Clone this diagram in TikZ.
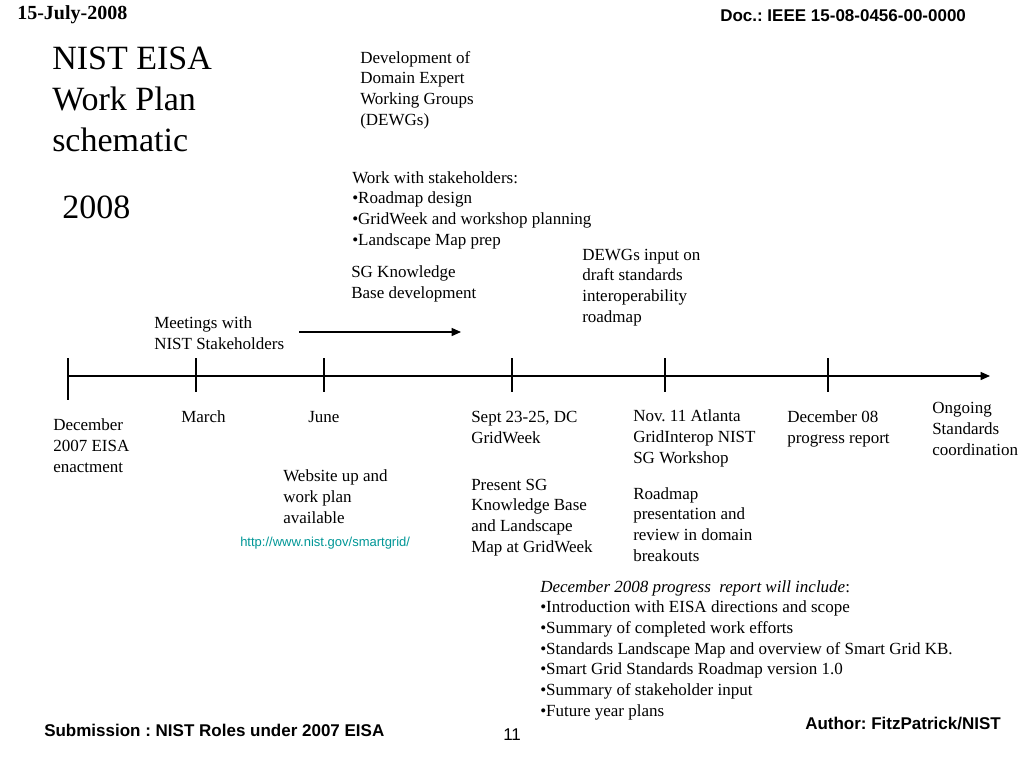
\documentclass[tikz,border=0pt]{standalone}
\usepackage{fontspec}
\setmainfont{Liberation Serif}
\setsansfont{Liberation Sans}
\frenchspacing
\usetikzlibrary{positioning,arrows.meta}
\definecolor{urlteal}{RGB}{0,150,150}

\begin{document}
\begin{tikzpicture}[
		x=0.75pt, y=-0.75pt,
		every node/.style={
			inner sep=0pt,
			anchor=base west,
			align=left
		},
		note/.style={font=\fontsize{12.75}{15.5}\selectfont},
		bigtitle/.style={font=\fontsize{25.5}{30.75}\selectfont},
		sanshead/.style={font=\sffamily\bfseries\fontsize{12.75}{15}\selectfont},
		timeline/.style={line width=1pt, -{Triangle[length=7pt,width=6pt]}},
		tickmark/.style={line width=1pt}
		]
		\useasboundingbox (0,0) rectangle (1024,768);
		
		% header and footer
		\node[font=\bfseries\fontsize{15}{17}\selectfont] (date) at (17,19) {15-July-2008};
		\node[sanshead] (doc) at (720,21) {Doc.: IEEE 15-08-0456-00-0000};
		\node[sanshead] (subm) at (44,736) {Submission : NIST Roles under 2007 EISA};
		\node[font=\sffamily\fontsize{12.75}{15}\selectfont] (page) at (503,740) {11};
		\node[sanshead] (author) at (805,729) {Author: FitzPatrick/NIST};
		
		% title (base = last line)
		\node[bigtitle] (title) at (52,151) {NIST EISA\\Work Plan\\schematic};
		\node[bigtitle] (year) at (62,218) {2008};
		
		% notes above the line
		\node[note] (dewg) at (360,125) {Development of\\Domain Expert\\Working Groups\\(DEWGs)};
		\node[note] (stake) at (352,245) {Work with stakeholders:\\\textbullet Roadmap design\\\textbullet GridWeek and workshop planning\\\textbullet Landscape Map prep};
		\node[note] (sgkb) at (351,298) {SG Knowledge\\Base development};
		\node[note] (dewgin) at (582,322) {DEWGs input on\\draft standards\\interoperability\\roadmap};
		\node[note] (meet) at (154,349) {Meetings with\\NIST Stakeholders};
		
		\coordinate (meetfrom) at (299,332);
		\coordinate (meetto) at (461,332);
		\draw[timeline] (meetfrom) -- (meetto);
		
		% time line
		\coordinate (t0) at (68,376);
		\coordinate (tend) at (990,376);
		\draw[timeline] (t0) -- (tend);
		\draw[tickmark] (68,358) -- (68,400);
		\foreach \x in {196,324,512,665,828}
		\draw[tickmark] (\x,358) -- (\x,392);
		
		% dates
		\node[note] (dec07) at (53,472) {December\\2007 EISA\\enactment};
		\node[note] (march) at (181,422) {March};
		\node[note] (june) at (308,422) {June};
		\node[note] (sept) at (471,443) {Sept 23-25, DC\\GridWeek};
		\node[note] (nov) at (633,463) {Nov. 11 Atlanta\\GridInterop NIST\\SG Workshop};
		\node[note] (dec08) at (787,443) {December 08\\progress report};
		\node[note] (ongoing) at (932,455) {Ongoing\\Standards\\coordination};
		
		% notes below the line
		\node[note] (website) at (283,523) {Website up and\\work plan\\available};
		\node[font=\sffamily\fontsize{9.75}{11}\selectfont, text=urlteal] (url) at (240,546) {http://www.nist.gov/smartgrid/};
		\node[note] (present) at (471,552) {Present SG\\Knowledge Base\\and Landscape\\Map at GridWeek};
		\node[note] (roadmap) at (633,561) {Roadmap\\presentation and\\review in domain\\breakouts};
		\node[note] (report) at (540,716) {\textit{December 2008 progress\ \ report will include}:\\\textbullet Introduction with EISA directions and scope\\\textbullet Summary of completed work efforts\\\textbullet Standards Landscape Map and overview of Smart Grid KB.\\\textbullet Smart Grid Standards Roadmap version 1.0\\\textbullet Summary of stakeholder input\\\textbullet Future year plans};
		
	\end{tikzpicture}
\end{document}
